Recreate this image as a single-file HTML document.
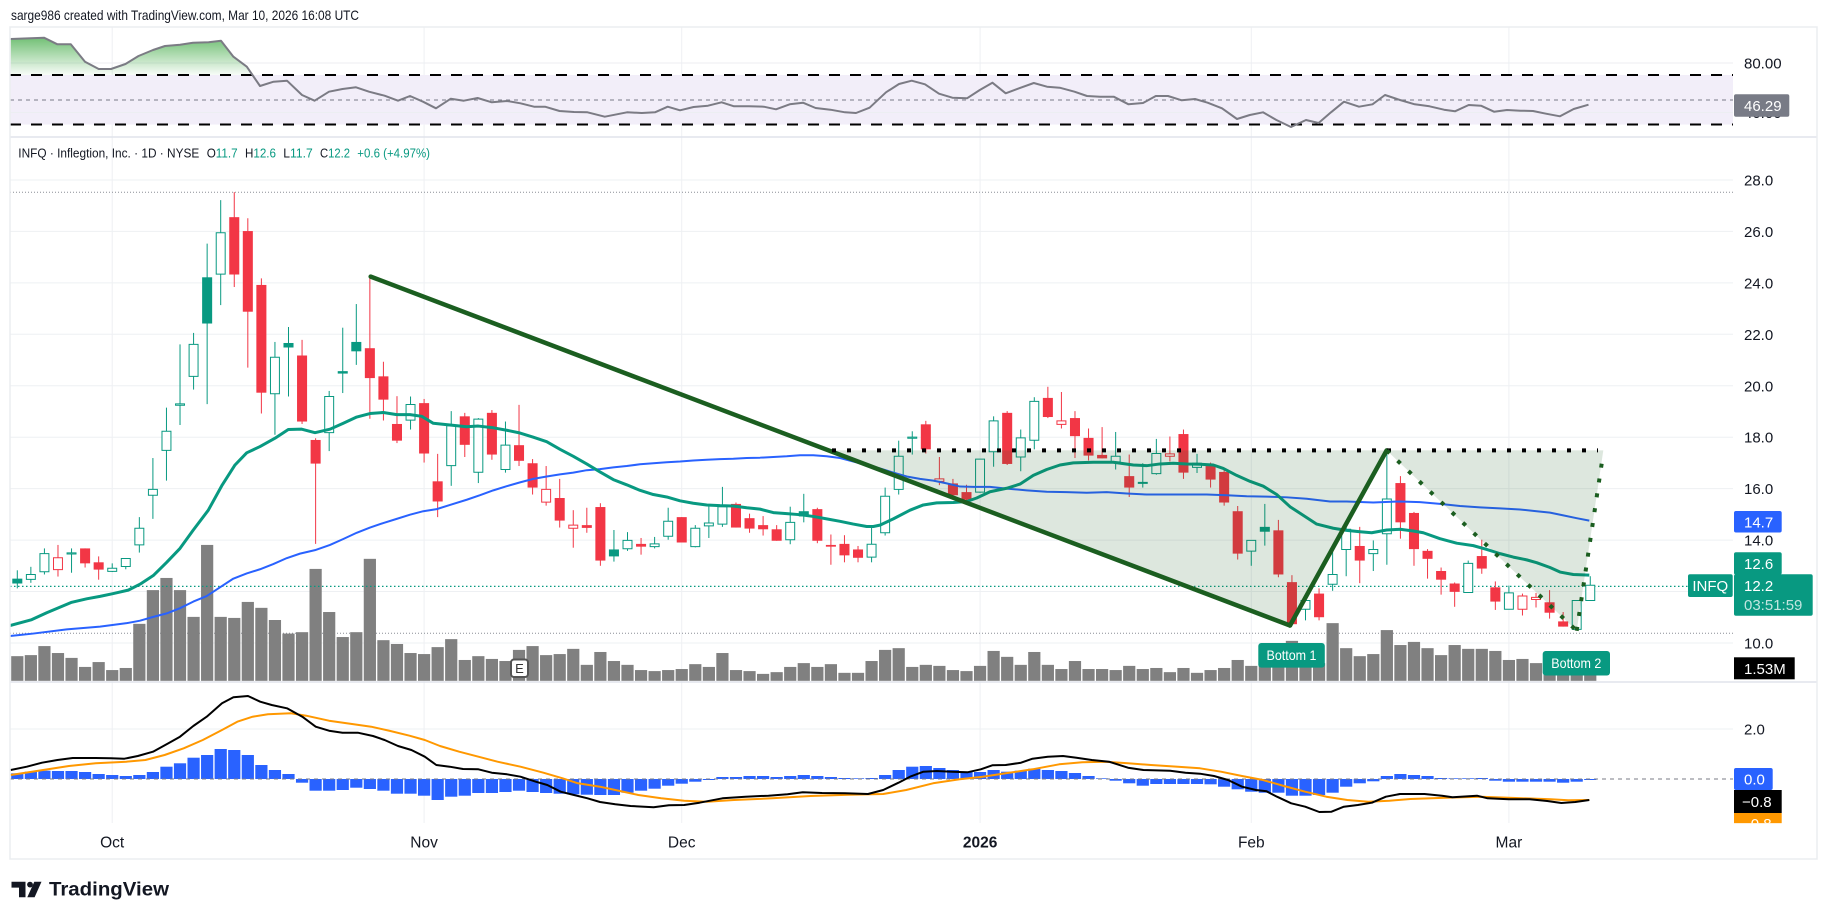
<!DOCTYPE html>
<html><head><meta charset="utf-8"><style>
html,body{margin:0;padding:0;background:#fff;}
svg{display:block;font-family:"Liberation Sans",sans-serif;}
.g{stroke:#089981;stroke-width:1;vector-effect:non-scaling-stroke;}
.r{stroke:#f23645;stroke-width:1;vector-effect:non-scaling-stroke;}
.fg{fill:#089981;}
.fr{fill:#f23645;}
.hg{fill:#fff;stroke:#089981;stroke-width:1;vector-effect:non-scaling-stroke;}
.hr{fill:#fff;stroke:#f23645;stroke-width:1;vector-effect:non-scaling-stroke;}
.ns{vector-effect:non-scaling-stroke;}
.ax{font-size:15px;fill:#131722;}
.lb{font-size:15px;fill:#fff;}
</style></head><body>
<svg width="1827" height="920" viewBox="0 0 1827 920" xmlns="http://www.w3.org/2000/svg">
<defs>
<linearGradient id="rsig" gradientUnits="userSpaceOnUse" x1="0" y1="37" x2="0" y2="75">
<stop offset="0" stop-color="#4caf50" stop-opacity="0.8"/>
<stop offset="1" stop-color="#4caf50" stop-opacity="0.04"/>
</linearGradient>
</defs>
<rect width="1827" height="920" fill="#fff"/>
<text x="11" y="20" font-size="14" fill="#131722" textLength="348" lengthAdjust="spacingAndGlyphs">sarge986 created with TradingView.com, Mar 10, 2026 16:08 UTC</text>

<!-- vertical gridlines -->
<g stroke="#eef0f3" stroke-width="1">
<line x1="112.2" y1="27" x2="112.2" y2="823"/>
<line x1="424.1" y1="27" x2="424.1" y2="823"/>
<line x1="681.7" y1="27" x2="681.7" y2="823"/>
<line x1="980.1" y1="27" x2="980.1" y2="823"/>
<line x1="1251.3" y1="27" x2="1251.3" y2="823"/>
<line x1="1508.9" y1="27" x2="1508.9" y2="823"/>
</g>

<!-- RSI pane -->
<rect x="10" y="75" width="1723" height="49.5" fill="#f2eef9"/>
<g stroke="#eceef2" stroke-width="1">
<line x1="10" y1="63" x2="1733" y2="63"/>
<line x1="10" y1="112.5" x2="1733" y2="112.5"/>
</g>
<path d="M10.7,75 L10.7,39 44,37.7 57.4,44.3 70.8,44.3 85,61.7 98.7,69 111,69 125.5,64 138.5,56 153,50 165,46 180,44.7 193,42.7 208.6,42.3 221,40.7 233.4,56.7 246.8,66.7 252.5,75 Z" fill="url(#rsig)"/>
<line x1="10" y1="75" x2="1733" y2="75" stroke="#000" stroke-width="2" stroke-dasharray="11 10"/>
<line x1="10" y1="124.5" x2="1733" y2="124.5" stroke="#000" stroke-width="2" stroke-dasharray="11 10"/>
<line x1="10" y1="100" x2="1733" y2="100" stroke="#787b86" stroke-width="1" stroke-dasharray="4 4"/>
<polyline fill="none" stroke="#7b7b84" stroke-width="2" stroke-linejoin="round" points="10.7,39 44,37.7 57.4,44.3 70.8,44.3 85,61.7 98.7,69 111,69 125.5,64 138.5,56 153,50 165,46 180,44.7 193,42.7 208.6,42.3 221,40.7 233.4,56.7 246.8,66.7 260,86 273.6,81.7 287,80.7 302,95 314.6,100.7 329,91.7 342.5,89 356,87.3 369,91.7 384.6,95.7 398,100.7 410,96 423,101.7 436,108.3 450.8,98.7 463.8,100.7 477.6,98 491.8,102.3 507,101 520.5,103.3 534,106.7 545,106.7 559.5,111 574,112 587.5,112.3 604.8,116.7 627,112.3 641.8,113 655,112.3 667.7,106.7 680,110.3 693.6,107 708,105.7 721.6,102.3 734,106.3 749,106.3 763.8,106.7 776,109.3 789.7,104.3 803,102.7 815.6,108 830.4,109.7 845,112.3 856,113 869.6,107.7 886,92.3 899,84 911.7,80.7 925,84.3 939,93.7 952.4,97.7 967,98.3 979.8,90 992.4,82.7 1005.7,93.3 1019,88.3 1033.8,83 1047,86.7 1059.7,87.7 1074.5,91.7 1087,96 1100,96.7 1113.7,96.7 1128.5,104.3 1143,103 1155.8,96 1168,96 1181.7,100.3 1195,99 1207.6,102.7 1222,108.3 1237,119 1249.8,115 1263,112.3 1276.4,120 1291,127 1306,120 1318.6,123 1331,112.3 1344,101.7 1359,106.7 1372.5,104.3 1385,95 1400,100 1414.7,104.3 1429.5,106.3 1444,109.7 1455,111.3 1468.7,105 1481,105.7 1494,111.7 1507,110 1520.5,110.7 1533,111 1546,113.7 1560,116.3 1573.7,109 1588.5,104.7"/>
<text x="1744" y="68.5" class="ax">80.00</text>
<text x="1744" y="118" class="ax">40.00</text>
<rect x="1734" y="94.3" width="55.3" height="22.4" rx="2" fill="#787b86"/>
<text x="1744" y="111" class="lb">46.29</text>

<!-- price pane gridlines -->
<g stroke="#eef0f3" stroke-width="1">
<line x1="10" y1="180" x2="1733" y2="180"/>
<line x1="10" y1="231.4" x2="1733" y2="231.4"/>
<line x1="10" y1="282.9" x2="1733" y2="282.9"/>
<line x1="10" y1="334.3" x2="1733" y2="334.3"/>
<line x1="10" y1="385.8" x2="1733" y2="385.8"/>
<line x1="10" y1="437.2" x2="1733" y2="437.2"/>
<line x1="10" y1="488.6" x2="1733" y2="488.6"/>
<line x1="10" y1="540.1" x2="1733" y2="540.1"/>
<line x1="10" y1="591.5" x2="1733" y2="591.5"/>
<line x1="10" y1="643" x2="1733" y2="643"/>
</g>
<line x1="10" y1="192.3" x2="1733" y2="192.3" stroke="#8a8d96" stroke-width="1" stroke-dasharray="1 2"/>
<line x1="10" y1="633.3" x2="1733" y2="633.3" stroke="#8a8d96" stroke-width="1" stroke-dasharray="1 2"/>

<!-- volume -->
<g transform="translate(17.3,140) scale(13.56,0.34758)" fill="#808080">
<rect x="-.45" width=".9" y="1485" height="71"/><rect x=".55" width=".9" y="1482" height="74"/><rect x="1.55" width=".9" y="1456" height="100"/><rect x="2.55" width=".9" y="1476" height="80"/><rect x="3.55" width=".9" y="1490" height="66"/><rect x="4.55" width=".9" y="1516" height="40"/><rect x="5.55" width=".9" y="1502" height="54"/><rect x="6.55" width=".9" y="1525" height="31"/><rect x="7.55" width=".9" y="1519" height="37"/><rect x="8.55" width=".9" y="1392" height="164"/>
<rect x="9.55" width=".9" y="1295" height="261"/><rect x="10.55" width=".9" y="1260" height="296"/><rect x="11.55" width=".9" y="1295" height="261"/><rect x="12.55" width=".9" y="1372" height="184"/><rect x="13.55" width=".9" y="1165" height="391"/><rect x="14.55" width=".9" y="1372" height="184"/><rect x="15.55" width=".9" y="1375" height="181"/><rect x="16.55" width=".9" y="1329" height="227"/><rect x="17.55" width=".9" y="1346" height="210"/><rect x="18.55" width=".9" y="1381" height="175"/>
<rect x="19.55" width=".9" y="1420" height="136"/><rect x="20.55" width=".9" y="1416" height="140"/><rect x="21.55" width=".9" y="1234" height="322"/><rect x="22.55" width=".9" y="1358" height="198"/><rect x="23.55" width=".9" y="1430" height="126"/><rect x="24.55" width=".9" y="1416" height="140"/><rect x="25.55" width=".9" y="1205" height="351"/><rect x="26.55" width=".9" y="1439" height="117"/><rect x="27.55" width=".9" y="1450" height="106"/><rect x="28.55" width=".9" y="1476" height="80"/>
<rect x="29.55" width=".9" y="1479" height="77"/><rect x="30.55" width=".9" y="1459" height="97"/><rect x="31.55" width=".9" y="1436" height="120"/><rect x="32.55" width=".9" y="1496" height="60"/><rect x="33.55" width=".9" y="1485" height="71"/><rect x="34.55" width=".9" y="1493" height="63"/><rect x="35.55" width=".9" y="1499" height="57"/><rect x="36.55" width=".9" y="1467" height="89"/><rect x="37.55" width=".9" y="1456" height="100"/><rect x="38.55" width=".9" y="1482" height="74"/>
<rect x="39.55" width=".9" y="1479" height="77"/><rect x="40.55" width=".9" y="1464" height="92"/><rect x="41.55" width=".9" y="1510" height="46"/><rect x="42.55" width=".9" y="1473" height="83"/><rect x="43.55" width=".9" y="1499" height="57"/><rect x="44.55" width=".9" y="1510" height="46"/><rect x="45.55" width=".9" y="1525" height="31"/><rect x="46.55" width=".9" y="1528" height="28"/><rect x="47.55" width=".9" y="1525" height="31"/><rect x="48.55" width=".9" y="1522" height="34"/>
<rect x="49.55" width=".9" y="1508" height="48"/><rect x="50.55" width=".9" y="1516" height="40"/><rect x="51.55" width=".9" y="1476" height="80"/><rect x="52.55" width=".9" y="1525" height="31"/><rect x="53.55" width=".9" y="1528" height="28"/><rect x="54.55" width=".9" y="1536" height="20"/><rect x="55.55" width=".9" y="1531" height="25"/><rect x="56.55" width=".9" y="1516" height="40"/><rect x="57.55" width=".9" y="1505" height="51"/><rect x="58.55" width=".9" y="1516" height="40"/>
<rect x="59.55" width=".9" y="1508" height="48"/><rect x="60.55" width=".9" y="1533" height="23"/><rect x="61.55" width=".9" y="1533" height="23"/><rect x="62.55" width=".9" y="1499" height="57"/><rect x="63.55" width=".9" y="1467" height="89"/><rect x="64.55" width=".9" y="1462" height="94"/><rect x="65.55" width=".9" y="1516" height="40"/><rect x="66.55" width=".9" y="1510" height="46"/><rect x="67.55" width=".9" y="1513" height="43"/><rect x="68.55" width=".9" y="1525" height="31"/>
<rect x="69.55" width=".9" y="1528" height="28"/><rect x="70.55" width=".9" y="1513" height="43"/><rect x="71.55" width=".9" y="1470" height="86"/><rect x="72.55" width=".9" y="1487" height="69"/><rect x="73.55" width=".9" y="1510" height="46"/><rect x="74.55" width=".9" y="1473" height="83"/><rect x="75.55" width=".9" y="1510" height="46"/><rect x="76.55" width=".9" y="1522" height="34"/><rect x="77.55" width=".9" y="1499" height="57"/><rect x="78.55" width=".9" y="1522" height="34"/>
<rect x="79.55" width=".9" y="1522" height="34"/><rect x="80.55" width=".9" y="1525" height="31"/><rect x="81.55" width=".9" y="1513" height="43"/><rect x="82.55" width=".9" y="1522" height="34"/><rect x="83.55" width=".9" y="1519" height="37"/><rect x="84.55" width=".9" y="1531" height="25"/><rect x="85.55" width=".9" y="1519" height="37"/><rect x="86.55" width=".9" y="1533" height="23"/><rect x="87.55" width=".9" y="1525" height="31"/><rect x="88.55" width=".9" y="1519" height="37"/>
<rect x="89.55" width=".9" y="1496" height="60"/><rect x="90.55" width=".9" y="1513" height="43"/><rect x="91.55" width=".9" y="1495" height="61"/><rect x="92.55" width=".9" y="1490" height="66"/><rect x="93.55" width=".9" y="1441" height="115"/><rect x="94.55" width=".9" y="1500" height="56"/><rect x="95.55" width=".9" y="1505" height="51"/><rect x="96.55" width=".9" y="1390" height="166"/><rect x="97.55" width=".9" y="1462" height="94"/><rect x="98.55" width=".9" y="1485" height="71"/>
<rect x="99.55" width=".9" y="1479" height="77"/><rect x="100.55" width=".9" y="1410" height="146"/><rect x="101.55" width=".9" y="1453" height="103"/><rect x="102.55" width=".9" y="1444" height="112"/><rect x="103.55" width=".9" y="1462" height="94"/><rect x="104.55" width=".9" y="1482" height="74"/><rect x="105.55" width=".9" y="1453" height="103"/><rect x="106.55" width=".9" y="1464" height="92"/><rect x="107.55" width=".9" y="1464" height="92"/><rect x="108.55" width=".9" y="1470" height="86"/>
<rect x="109.55" width=".9" y="1496" height="60"/><rect x="110.55" width=".9" y="1493" height="63"/><rect x="111.55" width=".9" y="1505" height="51"/><rect x="112.55" width=".9" y="1495" height="61"/><rect x="113.55" width=".9" y="1505" height="51"/><rect x="114.55" width=".9" y="1510" height="46"/><rect x="115.55" width=".9" y="1515" height="41"/>
</g>
<!-- earnings marker -->
<rect x="511" y="659.5" width="17" height="17.5" rx="3" fill="#fff" stroke="#555" stroke-width="2"/>
<text x="519.5" y="673" font-size="13" fill="#333" text-anchor="middle">E</text>

<!-- current price line -->
<line x1="10" y1="586.4" x2="1688" y2="586.4" stroke="#089981" stroke-width="1.2" stroke-dasharray="1.5 2.5"/>

<!-- candles -->
<g transform="translate(17.3,140) scale(13.56,0.34758)">
<line x1="0" x2="0" y1="1238" y2="1290" class="g"/><rect x="-.37" width=".74" y="1262" height="14" class="fg"/>
<line x1="1" x2="1" y1="1228" y2="1274" class="g"/><rect x=".67" width=".66" y="1250" height="14" class="hg"/>
<line x1="2" x2="2" y1="1175" y2="1250" class="g"/><rect x="1.67" width=".66" y="1190" height="52" class="hg"/>
<line x1="3" x2="3" y1="1165" y2="1256" class="r"/><rect x="2.67" width=".66" y="1202" height="34" class="hr"/>
<line x1="4" x2="4" y1="1175" y2="1245" class="g"/><rect x="3.67" width=".66" y="1188" height="3" class="hg"/>
<line x1="5" x2="5" y1="1175" y2="1230" class="r"/><rect x="4.63" width=".74" y="1175" height="43" class="fr"/>
<line x1="6" x2="6" y1="1198" y2="1265" class="r"/><rect x="5.63" width=".74" y="1215" height="21" class="fr"/>
<line x1="7" x2="7" y1="1218" y2="1243" class="g"/><rect x="6.67" width=".66" y="1232" height="9" class="hg"/>
<line x1="8" x2="8" y1="1204" y2="1235" class="g"/><rect x="7.67" width=".66" y="1204" height="23" class="hg"/>
<line x1="9" x2="9" y1="1085" y2="1187" class="g"/><rect x="8.67" width=".66" y="1117" height="48" class="hg"/>
<line x1="10" x2="10" y1="915" y2="1090" class="g"/><rect x="9.67" width=".66" y="1005" height="17" class="hg"/>
<line x1="11" x2="11" y1="770" y2="980" class="g"/><rect x="10.67" width=".66" y="838" height="55" class="hg"/>
<line x1="12" x2="12" y1="588" y2="820" class="g"/><rect x="11.67" width=".66" y="759" height="4" class="hg"/>
<line x1="13" x2="13" y1="555" y2="718" class="g"/><rect x="12.67" width=".66" y="588" height="92" class="hg"/>
<line x1="14" x2="14" y1="298" y2="760" class="g"/><rect x="13.63" width=".74" y="395" height="133" class="fg"/>
<line x1="15" x2="15" y1="173" y2="475" class="g"/><rect x="14.67" width=".66" y="267" height="119" class="hg"/>
<line x1="16" x2="16" y1="150" y2="423" class="r"/><rect x="15.63" width=".74" y="222" height="165" class="fr"/>
<line x1="17" x2="17" y1="225" y2="655" class="r"/><rect x="16.63" width=".74" y="262" height="232" class="fr"/>
<line x1="18" x2="18" y1="398" y2="787" class="r"/><rect x="17.63" width=".74" y="417" height="310" class="fr"/>
<line x1="19" x2="19" y1="581" y2="848" class="g"/><rect x="18.67" width=".66" y="625" height="105" class="hg"/>
<line x1="20" x2="20" y1="538" y2="738" class="g"/><rect x="19.63" width=".74" y="584" height="13" class="fg"/>
<line x1="21" x2="21" y1="575" y2="817" class="r"/><rect x="20.63" width=".74" y="620" height="190" class="fr"/>
<line x1="22" x2="22" y1="858" y2="1162" class="r"/><rect x="21.63" width=".74" y="863" height="68" class="fr"/>
<line x1="23" x2="23" y1="722" y2="895" class="g"/><rect x="22.67" width=".66" y="738" height="104" class="hg"/>
<line x1="24" x2="24" y1="540" y2="728" class="g"/><rect x="23.63" width=".74" y="665" height="7" class="fg"/>
<line x1="25" x2="25" y1="472" y2="647" class="g"/><rect x="24.63" width=".74" y="581" height="27" class="fg"/>
<line x1="26" x2="26" y1="393" y2="802" class="r"/><rect x="25.63" width=".74" y="599" height="86" class="fr"/>
<line x1="27" x2="27" y1="638" y2="807" class="r"/><rect x="26.63" width=".74" y="680" height="67" class="fr"/>
<line x1="28" x2="28" y1="737" y2="872" class="r"/><rect x="27.63" width=".74" y="817" height="48" class="fr"/>
<line x1="29" x2="29" y1="738" y2="833" class="g"/><rect x="28.67" width=".66" y="761" height="45" class="hg"/>
<line x1="30" x2="30" y1="745" y2="928" class="r"/><rect x="29.63" width=".74" y="757" height="145" class="fr"/>
<line x1="31" x2="31" y1="903" y2="1085" class="r"/><rect x="30.63" width=".74" y="982" height="58" class="fr"/>
<line x1="32" x2="32" y1="780" y2="995" class="g"/><rect x="31.67" width=".66" y="822" height="115" class="hg"/>
<line x1="33" x2="33" y1="785" y2="912" class="r"/><rect x="32.63" width=".74" y="795" height="82" class="fr"/>
<line x1="34" x2="34" y1="800" y2="987" class="g"/><rect x="33.67" width=".66" y="803" height="153" class="hg"/>
<line x1="35" x2="35" y1="777" y2="920" class="r"/><rect x="34.63" width=".74" y="785" height="120" class="fr"/>
<line x1="36" x2="36" y1="810" y2="957" class="g"/><rect x="35.67" width=".66" y="878" height="70" class="hg"/>
<line x1="37" x2="37" y1="762" y2="938" class="r"/><rect x="36.63" width=".74" y="878" height="45" class="fr"/>
<line x1="38" x2="38" y1="918" y2="1020" class="r"/><rect x="37.63" width=".74" y="930" height="70" class="fr"/>
<line x1="39" x2="39" y1="938" y2="1052" class="r"/><rect x="38.67" width=".66" y="1005" height="37" class="hr"/>
<line x1="40" x2="40" y1="975" y2="1115" class="r"/><rect x="39.63" width=".74" y="1030" height="65" class="fr"/>
<line x1="41" x2="41" y1="1065" y2="1173" class="r"/><rect x="40.67" width=".66" y="1108" height="9" class="hr"/>
<line x1="42" x2="42" y1="1058" y2="1130" class="r"/><rect x="41.63" width=".74" y="1108" height="8" class="fr"/>
<line x1="43" x2="43" y1="1045" y2="1225" class="r"/><rect x="42.63" width=".74" y="1056" height="154" class="fr"/>
<line x1="44" x2="44" y1="1122" y2="1213" class="g"/><rect x="43.63" width=".74" y="1178" height="20" class="fg"/>
<line x1="45" x2="45" y1="1128" y2="1182" class="g"/><rect x="44.67" width=".66" y="1152" height="24" class="hg"/>
<line x1="46" x2="46" y1="1145" y2="1193" class="r"/><rect x="45.63" width=".74" y="1162" height="8" class="fr"/>
<line x1="47" x2="47" y1="1142" y2="1175" class="g"/><rect x="46.67" width=".66" y="1162" height="8" class="hg"/>
<line x1="48" x2="48" y1="1058" y2="1150" class="g"/><rect x="47.67" width=".66" y="1097" height="43" class="hg"/>
<line x1="49" x2="49" y1="1085" y2="1158" class="r"/><rect x="48.63" width=".74" y="1085" height="73" class="fr"/>
<line x1="50" x2="50" y1="1108" y2="1172" class="g"/><rect x="49.67" width=".66" y="1117" height="53" class="hg"/>
<line x1="51" x2="51" y1="1050" y2="1145" class="g"/><rect x="50.67" width=".66" y="1102" height="8" class="hg"/>
<line x1="52" x2="52" y1="998" y2="1113" class="g"/><rect x="51.67" width=".66" y="1055" height="50" class="hg"/>
<line x1="53" x2="53" y1="1043" y2="1115" class="r"/><rect x="52.63" width=".74" y="1047" height="68" class="fr"/>
<line x1="54" x2="54" y1="1075" y2="1130" class="r"/><rect x="53.63" width=".74" y="1088" height="30" class="fr"/>
<line x1="55" x2="55" y1="1082" y2="1138" class="r"/><rect x="54.63" width=".74" y="1108" height="12" class="fr"/>
<line x1="56" x2="56" y1="1108" y2="1153" class="r"/><rect x="55.63" width=".74" y="1120" height="33" class="fr"/>
<line x1="57" x2="57" y1="1055" y2="1163" class="g"/><rect x="56.67" width=".66" y="1100" height="50" class="hg"/>
<line x1="58" x2="58" y1="1018" y2="1100" class="g"/><rect x="57.63" width=".74" y="1068" height="15" class="fg"/>
<line x1="59" x2="59" y1="1058" y2="1160" class="r"/><rect x="58.63" width=".74" y="1062" height="91" class="fr"/>
<line x1="60" x2="60" y1="1135" y2="1222" class="r"/><rect x="59.63" width=".74" y="1165" height="5" class="fr"/>
<line x1="61" x2="61" y1="1137" y2="1215" class="r"/><rect x="60.63" width=".74" y="1162" height="33" class="fr"/>
<line x1="62" x2="62" y1="1168" y2="1215" class="r"/><rect x="61.63" width=".74" y="1178" height="24" class="fr"/>
<line x1="63" x2="63" y1="1108" y2="1215" class="g"/><rect x="62.67" width=".66" y="1163" height="37" class="hg"/>
<line x1="64" x2="64" y1="1000" y2="1138" class="g"/><rect x="63.67" width=".66" y="1025" height="105" class="hg"/>
<line x1="65" x2="65" y1="865" y2="1020" class="g"/><rect x="64.67" width=".66" y="910" height="95" class="hg"/>
<line x1="66" x2="66" y1="838" y2="905" class="g"/><rect x="65.67" width=".66" y="855" height="3" class="hg"/>
<line x1="67" x2="67" y1="808" y2="902" class="r"/><rect x="66.63" width=".74" y="818" height="72" class="fr"/>
<line x1="68" x2="68" y1="912" y2="993" class="r"/><rect x="67.67" width=".66" y="975" height="7" class="hr"/>
<line x1="69" x2="69" y1="975" y2="1027" class="r"/><rect x="68.63" width=".74" y="988" height="34" class="fr"/>
<line x1="70" x2="70" y1="992" y2="1040" class="r"/><rect x="69.63" width=".74" y="1013" height="22" class="fr"/>
<line x1="71" x2="71" y1="918" y2="1015" class="g"/><rect x="70.67" width=".66" y="918" height="95" class="hg"/>
<line x1="72" x2="72" y1="795" y2="940" class="g"/><rect x="71.67" width=".66" y="808" height="89" class="hg"/>
<line x1="73" x2="73" y1="780" y2="935" class="r"/><rect x="72.63" width=".74" y="785" height="147" class="fr"/>
<line x1="74" x2="74" y1="833" y2="953" class="g"/><rect x="73.67" width=".66" y="857" height="55" class="hg"/>
<line x1="75" x2="75" y1="740" y2="890" class="g"/><rect x="74.67" width=".66" y="752" height="112" class="hg"/>
<line x1="76" x2="76" y1="710" y2="800" class="r"/><rect x="75.63" width=".74" y="742" height="55" class="fr"/>
<line x1="77" x2="77" y1="725" y2="830" class="r"/><rect x="76.67" width=".66" y="808" height="10" class="hr"/>
<line x1="78" x2="78" y1="780" y2="915" class="r"/><rect x="77.63" width=".74" y="800" height="52" class="fr"/>
<line x1="79" x2="79" y1="830" y2="922" class="r"/><rect x="78.63" width=".74" y="857" height="51" class="fr"/>
<line x1="80" x2="80" y1="826" y2="916" class="r"/><rect x="79.63" width=".74" y="906" height="10" class="fr"/>
<line x1="81" x2="81" y1="840" y2="948" class="g"/><rect x="80.67" width=".66" y="910" height="16" class="hg"/>
<line x1="82" x2="82" y1="905" y2="1027" class="r"/><rect x="81.63" width=".74" y="967" height="33" class="fr"/>
<line x1="83" x2="83" y1="930" y2="1000" class="g"/><rect x="82.67" width=".66" y="985" height="3" class="hg"/>
<line x1="84" x2="84" y1="860" y2="963" class="g"/><rect x="83.67" width=".66" y="902" height="58" class="hg"/>
<line x1="85" x2="85" y1="853" y2="925" class="r"/><rect x="84.67" width=".66" y="903" height="7" class="hr"/>
<line x1="86" x2="86" y1="833" y2="975" class="r"/><rect x="85.63" width=".74" y="846" height="111" class="fr"/>
<line x1="87" x2="87" y1="903" y2="958" class="g"/><rect x="86.67" width=".66" y="930" height="12" class="hg"/>
<line x1="88" x2="88" y1="928" y2="1000" class="r"/><rect x="87.63" width=".74" y="938" height="39" class="fr"/>
<line x1="89" x2="89" y1="945" y2="1052" class="r"/><rect x="88.63" width=".74" y="955" height="88" class="fr"/>
<line x1="90" x2="90" y1="1053" y2="1207" class="r"/><rect x="89.63" width=".74" y="1068" height="122" class="fr"/>
<line x1="91" x2="91" y1="1152" y2="1225" class="g"/><rect x="90.67" width=".66" y="1152" height="31" class="hg"/>
<line x1="92" x2="92" y1="1047" y2="1167" class="g"/><rect x="91.63" width=".74" y="1113" height="14" class="fg"/>
<line x1="93" x2="93" y1="1093" y2="1258" class="r"/><rect x="92.63" width=".74" y="1123" height="127" class="fr"/>
<line x1="94" x2="94" y1="1252" y2="1398" class="r"/><rect x="93.63" width=".74" y="1272" height="121" class="fr"/>
<line x1="95" x2="95" y1="1315" y2="1382" class="g"/><rect x="94.67" width=".66" y="1325" height="25" class="hg"/>
<line x1="96" x2="96" y1="1290" y2="1382" class="r"/><rect x="95.63" width=".74" y="1305" height="68" class="fr"/>
<line x1="97" x2="97" y1="1178" y2="1297" class="g"/><rect x="96.67" width=".66" y="1250" height="28" class="hg"/>
<line x1="98" x2="98" y1="1110" y2="1255" class="g"/><rect x="97.67" width=".66" y="1120" height="58" class="hg"/>
<line x1="99" x2="99" y1="1113" y2="1275" class="r"/><rect x="98.63" width=".74" y="1168" height="42" class="fr"/>
<line x1="100" x2="100" y1="1152" y2="1240" class="g"/><rect x="99.67" width=".66" y="1178" height="12" class="hg"/>
<line x1="101" x2="101" y1="890" y2="1222" class="g"/><rect x="100.67" width=".66" y="1033" height="100" class="hg"/>
<line x1="102" x2="102" y1="967" y2="1147" class="r"/><rect x="101.63" width=".74" y="987" height="113" class="fr"/>
<line x1="103" x2="103" y1="1070" y2="1225" class="r"/><rect x="102.63" width=".74" y="1073" height="104" class="fr"/>
<line x1="104" x2="104" y1="1177" y2="1262" class="r"/><rect x="103.63" width=".74" y="1182" height="23" class="fr"/>
<line x1="105" x2="105" y1="1230" y2="1308" class="r"/><rect x="104.63" width=".74" y="1240" height="25" class="fr"/>
<line x1="106" x2="106" y1="1273" y2="1343" class="r"/><rect x="105.63" width=".74" y="1276" height="24" class="fr"/>
<line x1="107" x2="107" y1="1210" y2="1302" class="g"/><rect x="106.67" width=".66" y="1218" height="84" class="hg"/>
<line x1="108" x2="108" y1="1150" y2="1248" class="r"/><rect x="107.63" width=".74" y="1197" height="36" class="fr"/>
<line x1="109" x2="109" y1="1270" y2="1352" class="r"/><rect x="108.63" width=".74" y="1287" height="41" class="fr"/>
<line x1="110" x2="110" y1="1282" y2="1350" class="g"/><rect x="109.67" width=".66" y="1303" height="47" class="hg"/>
<line x1="111" x2="111" y1="1305" y2="1368" class="r"/><rect x="110.67" width=".66" y="1312" height="38" class="hr"/>
<line x1="112" x2="112" y1="1303" y2="1345" class="r"/><rect x="111.67" width=".66" y="1316" height="6" class="hr"/>
<line x1="113" x2="113" y1="1295" y2="1377" class="r"/><rect x="112.63" width=".74" y="1330" height="30" class="fr"/>
<line x1="114" x2="114" y1="1358" y2="1400" class="r"/><rect x="113.63" width=".74" y="1385" height="15" class="fr"/>
<line x1="115" x2="115" y1="1325" y2="1410" class="g"/><rect x="114.67" width=".66" y="1325" height="83" class="hg"/>
<line x1="116" x2="116" y1="1255" y2="1325" class="g"/><rect x="115.67" width=".66" y="1281" height="44" class="hg"/>
</g>

<!-- moving averages -->
<g transform="translate(0,140) scale(1,0.34758)" fill="none" stroke-linejoin="round">
<polyline class="ns" stroke="#2962ff" stroke-width="2" points="10,1427 33.3,1420 66.7,1408 100,1400 126.7,1390 140,1383 153.3,1372 166.7,1362 180,1347 193.3,1328 206.7,1312 220,1287 233.3,1262 246.7,1247 260,1235 273.3,1220 286.7,1203 300,1190 315,1180 330,1165 343.3,1148 356.7,1130 370,1115 383.3,1102 396.7,1090 410,1078 423.3,1068 436.7,1062 450,1050 466.7,1035 480,1022 493.3,1008 506.7,996 520,985 533.3,975 546.7,968 560,962 573.3,957 586.7,950 600,947 613.3,942 626.7,938 640,933 653.3,930 666.7,927 680,925 693.3,922 706.7,920 720,918 733.3,917 746.7,915 760,914 773.3,912 786.7,910 800,907 813.3,907 826.7,910 840,915 853.3,925 866.7,935 880,945 893.3,957 906.7,968 920,975 933.3,980 946.7,988 960,997 973.3,998 990,998 1006.7,1003 1026.7,1008 1046.7,1012 1066.7,1013 1086.7,1015 1106.7,1013 1126.7,1017 1146.7,1020 1166.7,1020 1186.7,1020 1206.7,1020 1226.7,1022 1246.7,1025 1266.7,1026 1286.7,1028 1306.7,1032 1330,1040 1346.7,1040 1373.3,1043 1400,1040 1420,1042 1440,1047 1460,1053 1480,1057 1500,1060 1520,1063 1536.7,1068 1550,1072 1563.3,1080 1576.7,1088 1589.3,1095"/>
<polyline class="ns" stroke="#089981" stroke-width="3" points="10,1397 31.7,1380 46.7,1360 71.7,1330 86.7,1320 100,1313 113.3,1305 128.3,1295 140,1278 153.3,1253 166.7,1215 180,1175 193.3,1122 208.3,1065 221.7,995 235,935 246.7,900 260,882 275,858 288.3,833 301.7,832 315,842 330,832 343.3,815 356.7,797 370,787 383.3,784 396.7,790 410,790 421.7,795 433.3,815 450,820 466.7,825 478.3,823 493.3,828 506.7,835 520,843 533.3,855 546.7,868 560,890 573.3,910 586.7,932 600,955 613.3,977 626.7,992 640,1008 653.3,1020 666.7,1027 680,1038 693.3,1045 706.7,1050 720,1052 733.3,1053 746.7,1058 760,1062 773.3,1072 786.7,1075 800,1078 813.3,1083 826.7,1090 840,1097 853.3,1105 866.7,1112 873.3,1112 880,1108 893.3,1090 910,1065 923.3,1050 936.7,1044 953.3,1043 966.7,1040 976.7,1030 990,1012 1006.7,1002 1020,990 1033.3,965 1046.7,948 1060,935 1073.3,929 1093.3,927 1113.3,927 1133.3,935 1146.7,937 1160,932 1173.3,930 1186.7,932 1200,933 1213.3,935 1223.3,945 1236.7,965 1250,982 1263.3,996 1276.7,1020 1290,1055 1303.3,1080 1316.7,1105 1333.3,1117 1346.7,1123 1360,1127 1371.7,1130 1386.7,1122 1400,1120 1413.3,1125 1423.3,1130 1440,1147 1456.7,1160 1473.3,1167 1486.7,1178 1500,1190 1513.3,1200 1526.7,1208 1536.7,1216 1550,1230 1560,1243 1573.3,1250 1589.3,1252"/>
</g>

<!-- drawings -->
<polygon points="829,450.4 1386.7,450.4 1290,625.5" fill="#1b5e20" fill-opacity="0.15"/>
<polygon points="1386.7,450.4 1603.3,450.4 1576.7,630.8" fill="#1b5e20" fill-opacity="0.15"/>
<line x1="370.7" y1="276.6" x2="1290" y2="625.5" stroke="#1b5e20" stroke-width="4.5" stroke-linecap="round"/>
<line x1="1290" y1="625.5" x2="1386.7" y2="450.4" stroke="#1b5e20" stroke-width="4.5" stroke-linecap="round"/>
<line x1="832" y1="450.4" x2="1598" y2="450.4" stroke="#000" stroke-width="4" stroke-dasharray="4 11"/>
<line x1="1386.7" y1="450.4" x2="1576.7" y2="630.8" stroke="#1b5e20" stroke-width="4" stroke-dasharray="4 11"/>
<line x1="1576.7" y1="630.8" x2="1603.3" y2="452.8" stroke="#1b5e20" stroke-width="4" stroke-dasharray="4 11"/>

<rect x="1258.3" y="643" width="66.5" height="24.6" rx="3" fill="#089981"/>
<text x="1291.5" y="660" font-size="14" fill="#fff" text-anchor="middle" textLength="50" lengthAdjust="spacingAndGlyphs">Bottom 1</text>
<rect x="1542.7" y="651" width="67.3" height="24.5" rx="3" fill="#089981"/>
<text x="1576.3" y="668" font-size="14" fill="#fff" text-anchor="middle" textLength="50" lengthAdjust="spacingAndGlyphs">Bottom 2</text>

<!-- legend -->
<text x="18.3" y="157.5" font-size="13" fill="#131722" textLength="181" lengthAdjust="spacingAndGlyphs">INFQ · Inflegtion, Inc. · 1D · NYSE</text>
<text x="206.7" y="157.5" font-size="13" fill="#131722" textLength="31" lengthAdjust="spacingAndGlyphs">O<tspan fill="#089981">11.7</tspan></text>
<text x="245" y="157.5" font-size="13" fill="#131722" textLength="31" lengthAdjust="spacingAndGlyphs">H<tspan fill="#089981">12.6</tspan></text>
<text x="283.3" y="157.5" font-size="13" fill="#131722" textLength="29.4" lengthAdjust="spacingAndGlyphs">L<tspan fill="#089981">11.7</tspan></text>
<text x="320" y="157.5" font-size="13" fill="#131722" textLength="30" lengthAdjust="spacingAndGlyphs">C<tspan fill="#089981">12.2</tspan></text>
<text x="357.3" y="157.5" font-size="13" fill="#089981" textLength="72.7" lengthAdjust="spacingAndGlyphs">+0.6 (+4.97%)</text>

<!-- price axis labels -->
<text x="1744" y="185.5" class="ax">28.0</text>
<text x="1744" y="237" class="ax">26.0</text>
<text x="1744" y="288.5" class="ax">24.0</text>
<text x="1744" y="340" class="ax">22.0</text>
<text x="1744" y="391.3" class="ax">20.0</text>
<text x="1744" y="442.7" class="ax">18.0</text>
<text x="1744" y="494" class="ax">16.0</text>
<text x="1744" y="545.6" class="ax">14.0</text>
<text x="1744" y="648.5" class="ax">10.0</text>
<rect x="1734" y="511" width="47.7" height="21.5" rx="2" fill="#2962ff"/>
<text x="1744" y="527.5" class="lb">14.7</text>
<rect x="1734" y="552.3" width="47.7" height="22.5" rx="2" fill="#089981"/>
<text x="1744" y="569" class="lb">12.6</text>
<rect x="1734" y="574.3" width="78.7" height="41.4" rx="2" fill="#089981"/>
<text x="1744" y="591" class="lb">12.2</text>
<text x="1744" y="610" font-size="15" fill="#ffffff" fill-opacity="0.75">03:51:59</text>
<rect x="1688" y="574.3" width="44.7" height="22.7" rx="2" fill="#089981"/>
<text x="1710.3" y="591" class="lb" text-anchor="middle">INFQ</text>
<rect x="1734" y="657.3" width="60.7" height="22" fill="#000"/>
<text x="1744" y="674" class="lb">1.53M</text>

<!-- MACD pane -->
<line x1="10" y1="729" x2="1733" y2="729" stroke="#eef0f3" stroke-width="1"/>
<g transform="translate(17.3,0) scale(13.56,1)" fill="#2962ff">
<rect x="-.45" width=".9" y="773.3" height="5.7"/><rect x=".55" width=".9" y="771.7" height="7.3"/><rect x="1.55" width=".9" y="770.7" height="8.3"/><rect x="2.55" width=".9" y="771" height="8"/><rect x="3.55" width=".9" y="771" height="8"/><rect x="4.55" width=".9" y="772" height="7"/><rect x="5.55" width=".9" y="774" height="5"/><rect x="6.55" width=".9" y="775" height="4"/><rect x="7.55" width=".9" y="776" height="3"/><rect x="8.55" width=".9" y="775" height="4"/>
<rect x="9.55" width=".9" y="772" height="7"/><rect x="10.55" width=".9" y="766.7" height="12.3"/><rect x="11.55" width=".9" y="763.3" height="15.7"/><rect x="12.55" width=".9" y="757.7" height="21.3"/><rect x="13.55" width=".9" y="755" height="24"/><rect x="14.55" width=".9" y="749" height="30"/><rect x="15.55" width=".9" y="750" height="29"/><rect x="16.55" width=".9" y="755" height="24"/><rect x="17.55" width=".9" y="765" height="14"/><rect x="18.55" width=".9" y="770" height="9"/>
<rect x="19.55" width=".9" y="774" height="5"/><rect x="20.55" width=".9" y="779" height="3.7"/><rect x="21.55" width=".9" y="779" height="11.7"/><rect x="22.55" width=".9" y="779" height="11.7"/><rect x="23.55" width=".9" y="779" height="11"/><rect x="24.55" width=".9" y="779" height="8.7"/><rect x="25.55" width=".9" y="779" height="10"/><rect x="26.55" width=".9" y="779" height="11.7"/><rect x="27.55" width=".9" y="779" height="14.7"/><rect x="28.55" width=".9" y="779" height="14.7"/>
<rect x="29.55" width=".9" y="779" height="16.7"/><rect x="30.55" width=".9" y="779" height="21"/><rect x="31.55" width=".9" y="779" height="17.7"/><rect x="32.55" width=".9" y="779" height="16.7"/><rect x="33.55" width=".9" y="779" height="14"/><rect x="34.55" width=".9" y="779" height="14"/><rect x="35.55" width=".9" y="779" height="13"/><rect x="36.55" width=".9" y="779" height="11.7"/><rect x="37.55" width=".9" y="779" height="13"/><rect x="38.55" width=".9" y="779" height="14"/>
<rect x="39.55" width=".9" y="779" height="14.7"/><rect x="40.55" width=".9" y="779" height="15.3"/><rect x="41.55" width=".9" y="779" height="15.7"/><rect x="42.55" width=".9" y="779" height="16"/><rect x="43.55" width=".9" y="779" height="16"/><rect x="44.55" width=".9" y="779" height="13.7"/><rect x="45.55" width=".9" y="779" height="11.7"/><rect x="46.55" width=".9" y="779" height="9.7"/><rect x="47.55" width=".9" y="779" height="6.7"/><rect x="48.55" width=".9" y="779" height="4.7"/>
<rect x="49.55" width=".9" y="779" height="2.7"/><rect x="50.55" width=".9" y="779" height="1"/><rect x="51.55" width=".9" y="777" height="2"/><rect x="52.55" width=".9" y="777" height="2"/><rect x="53.55" width=".9" y="776" height="3"/><rect x="54.55" width=".9" y="776" height="3"/><rect x="55.55" width=".9" y="777" height="2"/><rect x="56.55" width=".9" y="776" height="3"/><rect x="57.55" width=".9" y="775" height="4"/><rect x="58.55" width=".9" y="776" height="3"/>
<rect x="59.55" width=".9" y="777" height="2"/><rect x="60.55" width=".9" y="778" height="1"/><rect x="61.55" width=".9" y="778.3" height=".7"/><rect x="62.55" width=".9" y="778" height="1"/><rect x="63.55" width=".9" y="775" height="4"/><rect x="64.55" width=".9" y="770" height="9"/><rect x="65.55" width=".9" y="766.7" height="12.3"/><rect x="66.55" width=".9" y="766" height="13"/><rect x="67.55" width=".9" y="768" height="11"/><rect x="68.55" width=".9" y="770" height="9"/>
<rect x="69.55" width=".9" y="772" height="7"/><rect x="70.55" width=".9" y="772" height="7"/><rect x="71.55" width=".9" y="770" height="9"/><rect x="72.55" width=".9" y="771.7" height="7.3"/><rect x="73.55" width=".9" y="770.7" height="8.3"/><rect x="74.55" width=".9" y="768.7" height="10.3"/><rect x="75.55" width=".9" y="770" height="9"/><rect x="76.55" width=".9" y="771" height="8"/><rect x="77.55" width=".9" y="773" height="6"/><rect x="78.55" width=".9" y="776" height="3"/>
<rect x="79.55" width=".9" y="778.3" height=".7"/><rect x="80.55" width=".9" y="779" height="1.7"/><rect x="81.55" width=".9" y="779" height="4.3"/><rect x="82.55" width=".9" y="779" height="6.7"/><rect x="83.55" width=".9" y="779" height="5"/><rect x="84.55" width=".9" y="779" height="5"/><rect x="85.55" width=".9" y="779" height="5"/><rect x="86.55" width=".9" y="779" height="5"/><rect x="87.55" width=".9" y="779" height="5.3"/><rect x="88.55" width=".9" y="779" height="7.7"/>
<rect x="89.55" width=".9" y="779" height="10.3"/><rect x="90.55" width=".9" y="779" height="12.7"/><rect x="91.55" width=".9" y="779" height="13.7"/><rect x="92.55" width=".9" y="779" height="13.7"/><rect x="93.55" width=".9" y="779" height="16.7"/><rect x="94.55" width=".9" y="779" height="16.7"/><rect x="95.55" width=".9" y="779" height="16"/><rect x="96.55" width=".9" y="779" height="13.7"/><rect x="97.55" width=".9" y="779" height="7.7"/><rect x="98.55" width=".9" y="779" height="4.3"/>
<rect x="99.55" width=".9" y="779" height="2.3"/><rect x="100.55" width=".9" y="776" height="3"/><rect x="101.55" width=".9" y="774" height="5"/><rect x="102.55" width=".9" y="775" height="4"/><rect x="103.55" width=".9" y="776" height="3"/><rect x="104.55" width=".9" y="778" height="1"/><rect x="105.55" width=".9" y="778.3" height=".7"/><rect x="106.55" width=".9" y="778.3" height=".7"/><rect x="107.55" width=".9" y="778" height="1"/><rect x="108.55" width=".9" y="779" height="1.7"/>
<rect x="109.55" width=".9" y="779" height="2.7"/><rect x="110.55" width=".9" y="779" height="2.7"/><rect x="111.55" width=".9" y="779" height="2.7"/><rect x="112.55" width=".9" y="779" height="2.7"/><rect x="113.55" width=".9" y="779" height="3.7"/><rect x="114.55" width=".9" y="779" height="2.7"/><rect x="115.55" width=".9" y="779" height="1"/>
</g>
<line x1="10" y1="779" x2="1733" y2="779" stroke="#787b86" stroke-width="1" stroke-dasharray="4 4"/>
<polyline fill="none" stroke="#ff9800" stroke-width="2" stroke-linejoin="round" points="10.7,775 38.3,770.7 68.9,766 95.7,763.3 126.3,761.7 145.4,760 164.6,755 183.7,748.3 202.8,740 222,730 237.3,721.7 252.6,716.7 267.9,714.3 290.9,713.3 306.2,715.7 329,720.7 352,724 371.2,726.7 390.4,731 409.5,735.7 424.8,740 440,746 459.2,751.7 478.4,756.7 497.5,761.7 520.5,766.7 543.4,772.7 562.6,778.3 577.9,783.3 600,786.7 615.3,790 638.3,795 661.2,798.3 684.2,800.7 707,801.7 734,800 772.2,798.3 810.5,796 848.7,794.7 883.2,794 906.2,790 933,783.3 959.7,779.3 982.7,776.7 1005.7,773.3 1032.5,769.3 1059.2,764.3 1082.2,762.3 1105.2,761.7 1128,763.3 1151,765 1177.9,766.7 1200,768.3 1221,771.7 1242,776 1263,780 1284,786 1305.2,791.7 1326.3,796.7 1347.3,800 1368.4,801.7 1389.4,800.7 1410.4,799 1445.5,797.7 1480.6,796.7 1515.7,798 1550.8,799.3 1568.3,800.3 1589.3,800"/>
<polyline fill="none" stroke="#000" stroke-width="2" stroke-linejoin="round" points="10.7,770 26.8,766.7 42,762.7 57.4,760 72.7,758 95.7,758 111,758.3 124.4,758.7 137.8,756 153,751.7 168.4,743.3 180,736.7 193.3,726 206.7,716.7 222,703.3 233.4,697.3 248,696 260.2,701.7 271.7,705 287,708.3 302.3,716.7 315.7,726.7 329,730.7 342.5,732.7 357.8,732.7 373,736 384.6,740 398,746 411.4,750 424.8,756.7 436.3,765 449.7,766.7 463,769 478.4,769.3 491.8,772.7 507,774.3 520.5,776.7 535.8,781.7 547.3,785 560.6,791.7 574,795 587.5,798.3 600,802 615.3,804.3 630.6,806 653.6,807.3 668.9,805.3 684.2,805 699.5,802.7 722.5,798.3 745.4,796.7 768.4,795.7 787.5,794.3 802.8,792.3 822,793 845,793.3 868,794 883.2,790 898.5,782.7 910,776.7 923.4,771.7 936.8,771 952,771.7 967.4,772.3 980.8,769.3 992.3,765.3 1005.7,765 1021,762.7 1032.5,758.7 1047.8,756.7 1063,756 1076.5,757.7 1091.8,760 1109,761.7 1128,767.7 1143.4,770 1170.2,770.7 1185.5,772.7 1200,773.7 1214,776 1228,780 1242,786.7 1256,790 1266.6,791.3 1277,796.7 1291.2,803.3 1305.2,806.7 1319.3,812 1331.5,811.7 1343.8,806.7 1357.8,805 1371.9,802.7 1385.9,796.7 1400,794 1424.5,794 1442,795.7 1452.5,797.3 1477,795.7 1487.6,798.3 1508.7,799.3 1529.7,799.3 1547.2,801 1561.3,803 1575.3,802 1589.3,800"/>
<text x="1744" y="734.5" class="ax">2.0</text>
<rect x="1734" y="768" width="38.7" height="22" rx="2" fill="#2962ff"/>
<text x="1744" y="784.5" class="lb">0.0</text>
<rect x="1734" y="790" width="47.7" height="23" fill="#000"/>
<text x="1742" y="807" class="lb">−0.8</text>
<svg x="1734" y="813" width="48" height="10.3" overflow="hidden">
<rect x="0" y="0" width="47.7" height="10.3" fill="#ff9800"/>
<text x="8" y="16" class="lb">−0.8</text>
</svg>

<!-- time axis -->
<g font-size="15.5" fill="#131722" text-anchor="middle">
<text x="112.2" y="847.5">Oct</text>
<text x="424.1" y="847.5">Nov</text>
<text x="681.7" y="847.5">Dec</text>
<text x="980.1" y="847.5" font-weight="bold">2026</text>
<text x="1251.3" y="847.5">Feb</text>
<text x="1508.9" y="847.5">Mar</text>
</g>

<!-- frame & separators -->
<line x1="10" y1="137" x2="1817" y2="137" stroke="#e0e3eb" stroke-width="1.5"/>
<line x1="10" y1="682" x2="1817" y2="682" stroke="#e0e3eb" stroke-width="1.5"/>
<rect x="10" y="27" width="1807" height="832" fill="none" stroke="#ebedf0" stroke-width="1.5"/>

<!-- TradingView logo -->
<g fill="#131722">
<path d="M11.5,881.7 H25.5 V897.3 H19 V887.6 H11.5 Z"/>
<circle cx="30" cy="884.6" r="2.9"/>
<path d="M34.3,881.7 H41.5 L34.6,897.3 H27.3 Z"/>
</g>
<text x="49" y="895.5" font-size="19" font-weight="bold" fill="#131722" textLength="120" lengthAdjust="spacingAndGlyphs">TradingView</text>
</svg>
</body></html>
